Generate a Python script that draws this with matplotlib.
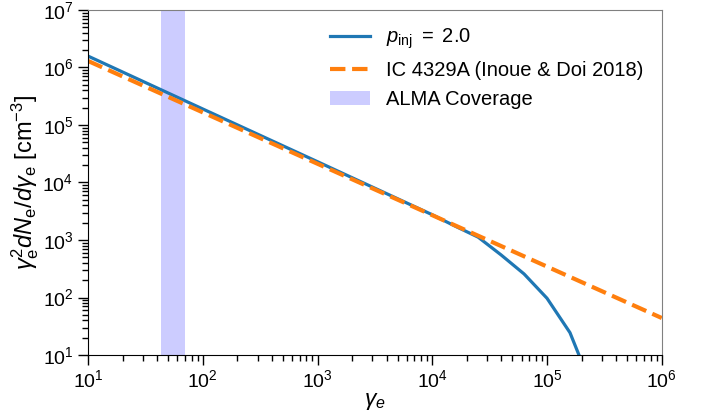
import numpy as np
import matplotlib
matplotlib.use("Agg")
import matplotlib.pyplot as plt

plt.rcParams['font.family'] = ['Liberation Sans', 'DejaVu Sans']
plt.rcParams['mathtext.fontset'] = 'custom'
plt.rcParams['mathtext.rm'] = 'Liberation Sans'
plt.rcParams['mathtext.it'] = 'Liberation Sans:italic'
plt.rcParams['mathtext.bf'] = 'Liberation Sans:bold'

# Model spectrum (p_inj = 2.0)
gamma_model = [1e1, 1e2, 1e3, 1e4, 1.585e4, 2.512e4, 3.981e4, 6.310e4, 1e5, 1.585e5, 2.512e5]
spec_model = [1.58e6, 1.9e5, 2.3e4, 2.75e3, 1.74e3, 1.12e3, 550, 257, 97, 24.5, 2.5]

# IC 4329A (Inoue & Doi 2018)
gamma_ic = [1e1, 1e6]
spec_ic = [1.3e6, 44]

# ALMA coverage
alma_range = [43, 70.5]

# Tick positions
xticks = [1e1, 1e2, 1e3, 1e4, 1e5, 1e6]
yticks = [1e1, 1e2, 1e3, 1e4, 1e5, 1e6, 1e7]

fig = plt.figure(figsize=(7.04, 4.16), dpi=100)
ax = fig.add_axes([0.125, 0.1466, 0.815, 0.8294])

ax.axvspan(alma_range[0], alma_range[1], color='blue', alpha=0.2, lw=0,
           label='ALMA Coverage')
ax.plot(gamma_model, spec_model, color='#1f77b4', lw=2.3,
        label=r'$p_{\rm inj}\ =\ 2.0$')
ax.plot(gamma_ic, spec_ic, color='#ff7f0e', lw=3, ls='--',
        label='IC 4329A (Inoue & Doi 2018)')

ax.set_xscale('log')
ax.set_yscale('log')
ax.set_xticks(xticks)
ax.set_yticks(yticks)
ax.set_xlim(1e1, 1e6)
ax.set_ylim(1e1, 1e7)

ax.set_xlabel(r'$\gamma_e$', fontsize=16.5, labelpad=-2)
ax.set_ylabel(r'$\gamma_{\rm e}^2 dN_{\rm e}/d\gamma_{\rm e}\ [\rm cm^{-3}]$',
              fontsize=17, labelpad=1)

ax.tick_params(which='major', length=7, width=1, labelsize=14, direction='out')
ax.tick_params(which='minor', length=4, width=1, direction='out')
for s in ['top', 'right']:
    ax.spines[s].set_color('#808080')
for s in ['left', 'bottom']:
    ax.spines[s].set_color('black')

handles, labels = ax.get_legend_handles_labels()
order = [1, 2, 0]
ax.legend([handles[i] for i in order], [labels[i] for i in order],
          loc='upper right', frameon=False, fontsize=14.5,
          bbox_to_anchor=(1.0, 1.005))

fig.savefig('out.png', dpi=100)
